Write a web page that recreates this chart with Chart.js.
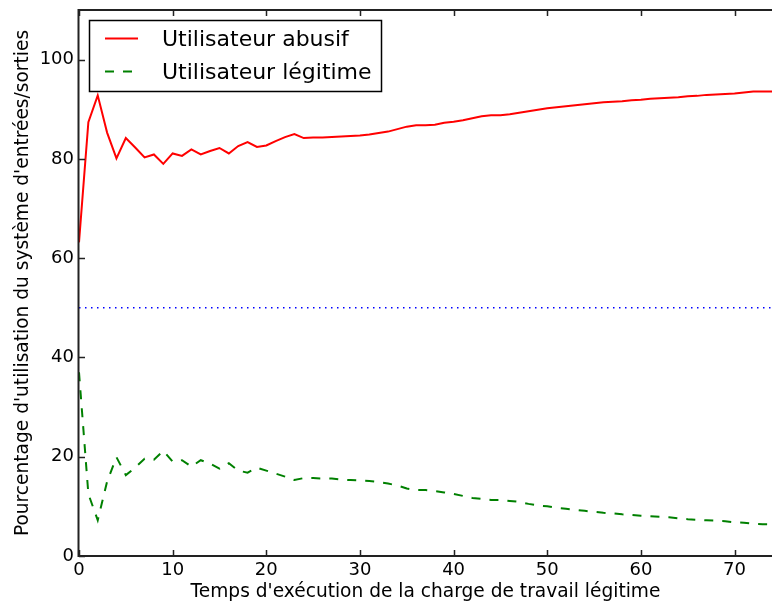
<!DOCTYPE html>
<html>
<head>
<meta charset="utf-8">
<script src="https://cdn.jsdelivr.net/npm/chart.js@4/dist/chart.umd.min.js"></script>
<style>
  body { margin: 0; background: #fff; }
</style>
</head>
<body>
<canvas id="chart" width="772" height="604"></canvas>
<script>
// temps d'exécution (axe x)
var temps = [0, 1, 2, 3, 4, 5, 6, 7, 8, 9,
  10, 11, 12, 13, 14, 15, 16, 17, 18, 19,
  20, 21, 22, 23, 24, 25, 26, 27, 28, 29,
  30, 31, 32, 33, 34, 35, 36, 37, 38, 39,
  40, 41, 42, 43, 44, 45, 46, 47, 48, 49,
  50, 51, 52, 53, 54, 55, 56, 57, 58, 59,
  60, 61, 62, 63, 64, 65, 66, 67, 68, 69,
  70, 71, 72, 73, 74];

var abusif = [63.2, 87.4, 92.8, 85.3, 80.1, 84.2, 82.3, 80.3, 80.9, 79.0,
  81.1, 80.6, 81.9, 80.9, 81.6, 82.2, 81.1, 82.6, 83.4, 82.4,
  82.7, 83.6, 84.4, 85.0, 84.2, 84.3, 84.3, 84.4, 84.5, 84.6,
  84.7, 84.9, 85.2, 85.5, 86.0, 86.5, 86.8, 86.8, 86.9, 87.3,
  87.5, 87.8, 88.2, 88.6, 88.8, 88.8, 89.0, 89.3, 89.6, 89.9,
  90.2, 90.4, 90.6, 90.8, 91.0, 91.2, 91.4, 91.5, 91.6, 91.8,
  91.9, 92.1, 92.2, 92.3, 92.4, 92.6, 92.7, 92.9, 93.0, 93.1,
  93.2, 93.4, 93.6, 93.6, 93.6];

var legitime = [37.0, 12.5, 7.2, 15.0, 19.9, 16.3, 17.8, 19.6, 19.4, 21.2,
  19.0, 19.3, 18.0, 19.3, 18.6, 17.6, 18.7, 17.2, 16.8, 17.8,
  17.2, 16.6, 16.0, 15.3, 15.7, 15.7, 15.6, 15.6, 15.4, 15.3,
  15.2, 15.1, 14.9, 14.6, 14.2, 13.6, 13.3, 13.3, 13.1, 12.8,
  12.5, 12.1, 11.7, 11.5, 11.3, 11.3, 11.1, 10.9, 10.5, 10.2,
  10.0, 9.7, 9.5, 9.3, 9.1, 8.9, 8.7, 8.6, 8.4, 8.3,
  8.1, 8.0, 7.9, 7.8, 7.6, 7.4, 7.3, 7.2, 7.1, 7.0,
  6.8, 6.7, 6.5, 6.4, 6.4];

var seuil = 50;

var police = 'DejaVu Sans';

function points(vals) {
  return temps.map(function(t, i){ return {x: t, y: vals[i]}; });
}

// cadre + graduations vers l'intérieur + légende dans le graphique
var cadre = {
  id: 'cadre',
  afterDraw: function(chart) {
    var ctx = chart.ctx, a = chart.chartArea;
    var xs = chart.scales.x, ys = chart.scales.y;
    ctx.save();
    ctx.strokeStyle = '#222';
    ctx.lineWidth = 2;
    ctx.beginPath();
    ctx.moveTo(a.right + 2, a.top);
    ctx.lineTo(a.left - 0.5, a.top);
    ctx.lineTo(a.left - 0.5, a.bottom);
    ctx.lineTo(a.right + 2, a.bottom);
    ctx.stroke();

    ctx.lineWidth = 1.5;
    ctx.beginPath();
    xs.ticks.forEach(function(t){
      var px = Math.round(xs.getPixelForValue(t.value)) + 0.5;
      ctx.moveTo(px, a.bottom); ctx.lineTo(px, a.bottom - 6);
      ctx.moveTo(px, a.top); ctx.lineTo(px, a.top + 6);
    });
    ys.ticks.forEach(function(t){
      var py = Math.round(ys.getPixelForValue(t.value)) + 0.5;
      ctx.moveTo(a.left, py); ctx.lineTo(a.left + 6, py);
    });
    ctx.stroke();

    // légende
    var lx = 89.5, ly = 20.5, lw = 292, lh = 71;
    ctx.fillStyle = '#fff';
    ctx.fillRect(lx, ly, lw, lh);
    ctx.strokeStyle = '#000';
    ctx.lineWidth = 1.5;
    ctx.strokeRect(lx, ly, lw, lh);
    var rows = [38.5, 71.5];
    ctx.font = '22px "' + police + '"';
    ctx.textBaseline = 'alphabetic';
    ctx.textAlign = 'left';
    [0, 1].forEach(function(k){
      var ds = chart.data.datasets[k];
      ctx.strokeStyle = ds.borderColor;
      ctx.lineWidth = ds.borderWidth;
      ctx.setLineDash(ds.borderDash || []);
      ctx.beginPath();
      ctx.moveTo(105, rows[k]); ctx.lineTo(138, rows[k]);
      ctx.stroke();
      ctx.setLineDash([]);
      ctx.fillStyle = '#000';
      ctx.fillText(ds.label, 162, rows[k] + 7.5);
    });
    ctx.restore();
  }
};

new Chart(document.getElementById('chart'), {
  type: 'line',
  data: {
    datasets: [{
      label: 'Utilisateur abusif',
      data: points(abusif),
      borderColor: '#ff0000',
      borderWidth: 2,
      pointRadius: 0,
      tension: 0
    }, {
      label: 'Utilisateur légitime',
      data: points(legitime),
      borderColor: '#008000',
      borderWidth: 2,
      borderDash: [9, 9],
      pointRadius: 0,
      tension: 0
    }, {
      label: 'seuil',
      data: [{x: temps[0], y: seuil}, {x: temps[temps.length - 1], y: seuil}],
      borderColor: '#0000ff',
      borderWidth: 1.5,
      borderDash: [1.5, 4.5],
      pointRadius: 0
    }]
  },
  options: {
    responsive: false,
    animation: false,
    layout: { padding: { top: 10, right: 0, left: 0, bottom: 0 } },
    plugins: {
      legend: { display: false },
      tooltip: { enabled: false }
    },
    scales: {
      x: {
        type: 'linear',
        min: 0,
        max: 74,
        grid: { display: false, drawTicks: false },
        border: { display: false },
        ticks: {
          stepSize: 10,
          includeBounds: false,
          padding: 4,
          maxRotation: 0,
          color: '#000',
          font: { family: police, size: 18 }
        },
        title: {
          display: true,
          text: "Temps d'exécution de la charge de travail légitime",
          color: '#000',
          font: { family: police, size: 18.6 },
          padding: { top: 0, bottom: 1 }
        },
        afterFit: function(s){ s.height = 48; }
      },
      y: {
        min: 0,
        max: 110,
        grid: { display: false, drawTicks: false },
        border: { display: false },
        ticks: {
          stepSize: 20,
          includeBounds: false,
          padding: 5,
          color: '#000',
          font: { family: police, size: 18 }
        },
        title: {
          display: true,
          text: "Pourcentage d'utilisation du système d'entrées/sorties",
          color: '#000',
          font: { family: police, size: 18.6 },
          padding: { top: 12, bottom: 0 }
        },
        afterFit: function(s){
          s.width = 79;
          s.paddingTop = 0;
          s.paddingBottom = 0;
        }
      }
    }
  },
  plugins: [cadre]
});
</script>
</body>
</html>
